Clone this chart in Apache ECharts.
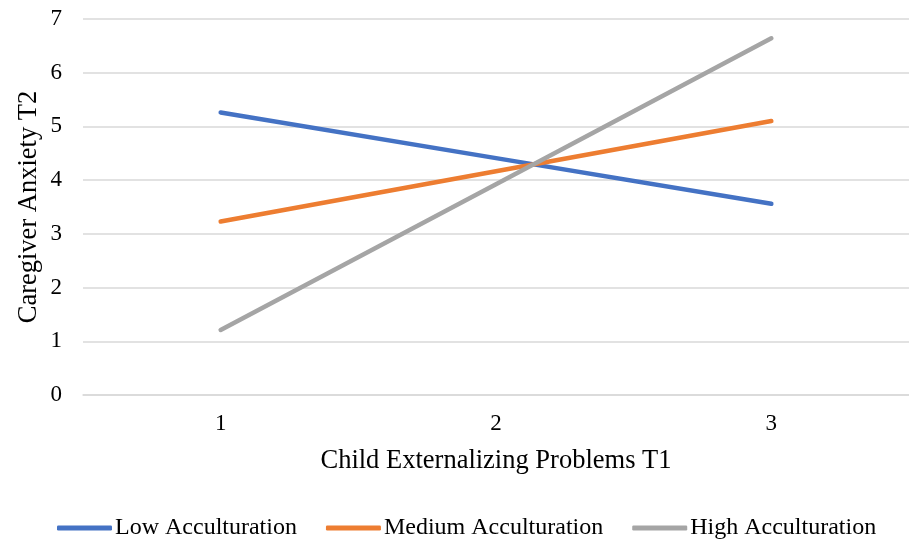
<!DOCTYPE html>
<html>
<head>
<meta charset="utf-8">
<script src="https://cdn.jsdelivr.net/npm/echarts@6/dist/echarts.min.js"></script>
<style>
  html, body { margin: 0; padding: 0; background: #fff; }
  #chart { width: 909px; height: 544px; }
</style>
</head>
<body>
<div id="chart"></div>
<script>
// Simple-slopes interaction plot
const categories = ['1', '2', '3'];
const lowAcc = [5.26, 4.41, 3.56];
const mediumAcc = [3.23, 4.165, 5.10];
const highAcc = [1.21, 3.925, 6.64];

const seriesNames = ['Low Acculturation', 'Medium Acculturation', 'High Acculturation'];
const seriesColors = ['#4472C4', '#ED7D31', '#A5A5A5'];
const seriesData = [lowAcc, mediumAcc, highAcc];

const font = '"Liberation Serif", "Times New Roman", serif';

const chart = echarts.init(document.getElementById('chart'));
chart.setOption({
  animation: false,
  textStyle: { fontFamily: font, color: '#000' },
  grid: { left: 83, right: 0, top: 19, bottom: 149, containLabel: false },
  legend: {
    top: 516,
    left: 57,
    padding: 0,
    icon: 'roundRect',
    itemWidth: 55,
    itemHeight: 5,
    itemGap: 29,
    textStyle: { fontFamily: font, fontSize: 24, color: '#000', padding: [0, 0, 0, -2] },
    data: seriesNames
  },
  xAxis: {
    type: 'category',
    data: categories,
    boundaryGap: true,
    name: 'Child Externalizing Problems T1',
    nameLocation: 'middle',
    nameGap: 53,
    nameMoveOverlap: false,
    nameTextStyle: { fontFamily: font, fontSize: 26.5, color: '#000' },
    axisLine: { show: true, lineStyle: { color: '#D9D9D9', width: 1.5 } },
    axisTick: { show: false },
    axisLabel: { fontFamily: font, fontSize: 23, color: '#000', margin: 17 }
  },
  yAxis: {
    type: 'value',
    min: 0,
    max: 7,
    interval: 1,
    name: 'Caregiver Anxiety T2',
    nameLocation: 'middle',
    nameGap: 40,
    nameMoveOverlap: false,
    nameTextStyle: { fontFamily: font, fontSize: 26.5, color: '#000' },
    axisLine: { show: false },
    axisTick: { show: false },
    axisLabel: { fontFamily: font, fontSize: 23, color: '#000', margin: 21 },
    splitLine: { lineStyle: { color: '#D9D9D9', width: 1.5 } }
  },
  series: seriesNames.map((name, i) => ({
    name: name,
    type: 'line',
    data: seriesData[i],
    showSymbol: false,
    symbol: 'none',
    color: seriesColors[i],
    lineStyle: { color: seriesColors[i], width: 4.5, cap: 'round' }
  }))
});
</script>
</body>
</html>
